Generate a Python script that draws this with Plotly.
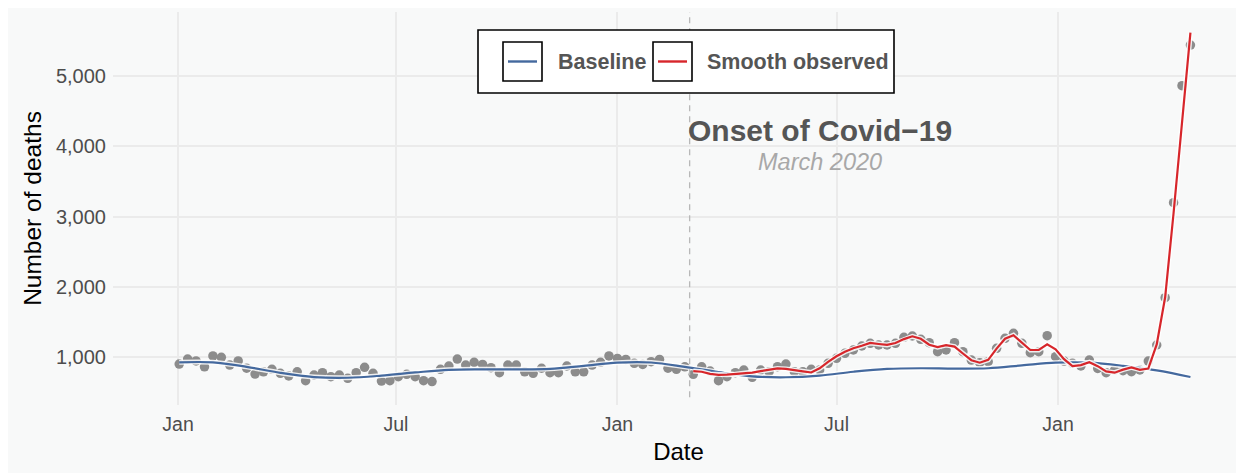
import pandas as pd
import plotly.graph_objects as go

# ---------------- data ----------------
start_date = "2019-01-02"
n_weeks = 121
observed = [
    900, 970, 945, 860, 1015, 995, 885, 945, 840, 758,
    790, 825, 768, 730, 790, 663, 744, 777, 720, 744,
    696, 777, 853, 768, 658, 663, 720, 753, 720, 663,
    650, 825, 872, 970, 885, 924, 895, 848, 777, 885,
    885, 790, 768, 840, 777, 777, 872, 790, 790, 885,
    924, 1015, 980, 965, 910, 895, 933, 965, 840, 825,
    860, 753, 860, 800, 663, 720, 777, 815, 711, 815,
    791, 862, 900, 791, 791, 825, 815, 910, 981, 1052,
    1100, 1157, 1195, 1171, 1171, 1195, 1280, 1299, 1252, 1204,
    1076, 1100, 1204, 1076, 957, 919, 933, 1124, 1266, 1337,
    1195, 1062, 1076, 1304, 1005, 943, 910, 872, 957, 838,
    777, 815, 805, 791, 815, 943, 1171, 1845, 3197, 4863,
    5441,
]
# smoothed observed series, from the onset week (index 61) on
smooth_start_index = 61
smooth_observed = [
    800, 790, 760, 745, 748, 755, 765, 778, 800, 820,
    838, 830, 808, 795, 780, 840, 930, 1010, 1075, 1125,
    1160, 1200, 1185, 1172, 1200, 1255, 1295, 1260, 1175, 1140,
    1170, 1148, 1050, 955, 919, 960, 1120, 1260, 1310, 1210,
    1100, 1100, 1180, 1110, 970, 870, 885, 925, 870, 795,
    777, 820, 852, 818, 835, 1180, 1850, 3050, 4300, 5616,
]
# baseline read every 4 weeks
baseline_step = 4
baseline = [
    924, 924, 860, 775, 715, 705, 735, 780, 818, 825,
    825, 832, 875, 920, 922, 860, 785, 725, 712, 735,
    790, 830, 840, 835, 840, 880, 920, 920, 875, 810,
    715,
]
onset_date = "2020-03-01"
onset_title = "Onset of Covid\u221219"
onset_subtitle = "March 2020"
x_tick_dates = ["2019-01-01", "2019-07-01", "2020-01-01", "2020-07-01", "2021-01-01"]
x_tick_labels = ["Jan", "Jul", "Jan", "Jul", "Jan"]
y_tick_vals = [1000, 2000, 3000, 4000, 5000]
legend_labels = ["Baseline", "Smooth observed"]

weeks = pd.date_range(start_date, periods=n_weeks, freq="7D")
smooth_dates = weeks[smooth_start_index:smooth_start_index + len(smooth_observed)]
baseline_dates = weeks[::baseline_step][:len(baseline)]

# ---------------- style ----------------
W, H = 1244, 473
OFF = 8  # page body margin
P_L, P_T, P_B, P_R = 113, 12, 405, 1244  # plot area in page pixels
ML, MT = P_L - OFF, P_T - OFF
MR = W - (P_R - OFF)
MB = H - (P_B - OFF)
PW, PH = P_R - P_L, P_B - P_T
BLUE = "#44699E"
RED = "#D7262B"
PTS = "#8C8C8C"
BG = "#F8F9F9"
GRID = "#EBEBEB"
FONT = "Liberation Sans, Arial, sans-serif"


def px(x, y):
    return (x - P_L) / PW, (P_B - y) / PH


fig = go.Figure()
fig.add_trace(go.Scatter(x=weeks, y=observed, mode="markers",
                         marker=dict(color=PTS, size=9.5, line=dict(width=0)),
                         showlegend=False, hoverinfo="x+y"))
for xs, ys, col in [(baseline_dates, baseline, BLUE), (smooth_dates, smooth_observed, RED)]:
    shape = "spline" if col == BLUE else "linear"
    fig.add_trace(go.Scatter(x=xs, y=ys, mode="lines",
                             line=dict(color="rgba(255,255,255,0.85)", width=5, shape=shape),
                             showlegend=False, hoverinfo="skip"))
    fig.add_trace(go.Scatter(x=xs, y=ys, mode="lines",
                             line=dict(color=col, width=2.2, shape=shape),
                             showlegend=False))

shapes = []
# onset line
shapes.append(dict(type="line", xref="x", yref="paper", x0=onset_date, x1=onset_date, y0=0.02, y1=1,
                   line=dict(color="#B8B8B8", width=1.3, dash="6px,5px"), layer="above"))
# legend box
lx0, ly0 = px(478, 93)
lx1, ly1 = px(894, 30)
shapes.append(dict(type="rect", xref="paper", yref="paper", x0=lx0, y0=ly0, x1=lx1, y1=ly1,
                   fillcolor="white", line=dict(color="black", width=1.6), layer="above"))
annotations = []
for (kx, tx), col, lab in zip([(503, 556), (653, 705)], [BLUE, RED], legend_labels):
    a0, b0 = px(kx, 81)
    a1, b1 = px(kx + 39, 42)
    shapes.append(dict(type="rect", xref="paper", yref="paper", x0=a0, y0=b0, x1=a1, y1=b1,
                       fillcolor="white", line=dict(color="black", width=1.6), layer="above"))
    c0, cy = px(kx + 5, 61.5)
    c1, _ = px(kx + 34, 61.5)
    shapes.append(dict(type="line", xref="paper", yref="paper", x0=c0, y0=cy, x1=c1, y1=cy,
                       line=dict(color=col, width=2.4), layer="above"))
    t0, ty = px(tx, 61.5)
    annotations.append(dict(xref="paper", yref="paper", x=t0, y=ty, xanchor="left", yanchor="middle",
                            text="<b>%s</b>" % lab, showarrow=False,
                            font=dict(family=FONT, size=21.5, color="#555555")))

label_x = pd.Timestamp(onset_date) + pd.Timedelta(days=108)
annotations.append(dict(x=label_x, y=4230, xref="x", yref="y", text="<b>%s</b>" % onset_title,
                        showarrow=False, xanchor="center", yanchor="middle", borderpad=0,
                        font=dict(family=FONT, size=30, color="#555555")))
annotations.append(dict(x=label_x, y=3780, xref="x", yref="y", text="<i>%s</i>" % onset_subtitle,
                        showarrow=False, xanchor="center", yanchor="middle", borderpad=0,
                        font=dict(family=FONT, size=23.5, color="#A8A8A8")))

x0 = pd.Timestamp("2019-01-01") - pd.Timedelta(days=54)
x1 = pd.Timestamp("2019-01-01") + pd.Timedelta(days=885.5)

fig.update_layout(
    width=W, height=H,
    margin=dict(l=ML, r=MR, t=MT, b=MB, autoexpand=False),
    paper_bgcolor=BG, plot_bgcolor=BG,
    shapes=shapes, annotations=annotations, showlegend=False,
    font=dict(family=FONT),
    xaxis=dict(range=[x0, x1], tickvals=x_tick_dates, ticktext=x_tick_labels,
               showgrid=True, gridcolor=GRID, gridwidth=2, zeroline=False, showline=False,
               ticks="", tickfont=dict(size=19.5, color="#4D4D4D"), ticklabelstandoff=5,
               automargin=False,
               title=dict(text="Date", font=dict(size=24, color="black"), standoff=9)),
    yaxis=dict(range=[317, 5911], tickvals=y_tick_vals, tickformat=",d",
               showgrid=True, gridcolor=GRID, gridwidth=2, zeroline=False, showline=False,
               ticks="", tickfont=dict(size=20, color="#4D4D4D"), ticklabelstandoff=6,
               automargin=False,
               title=dict(text="Number of deaths", font=dict(size=24.5, color="black"), standoff=7)),
)

fig.write_html("out.html")
